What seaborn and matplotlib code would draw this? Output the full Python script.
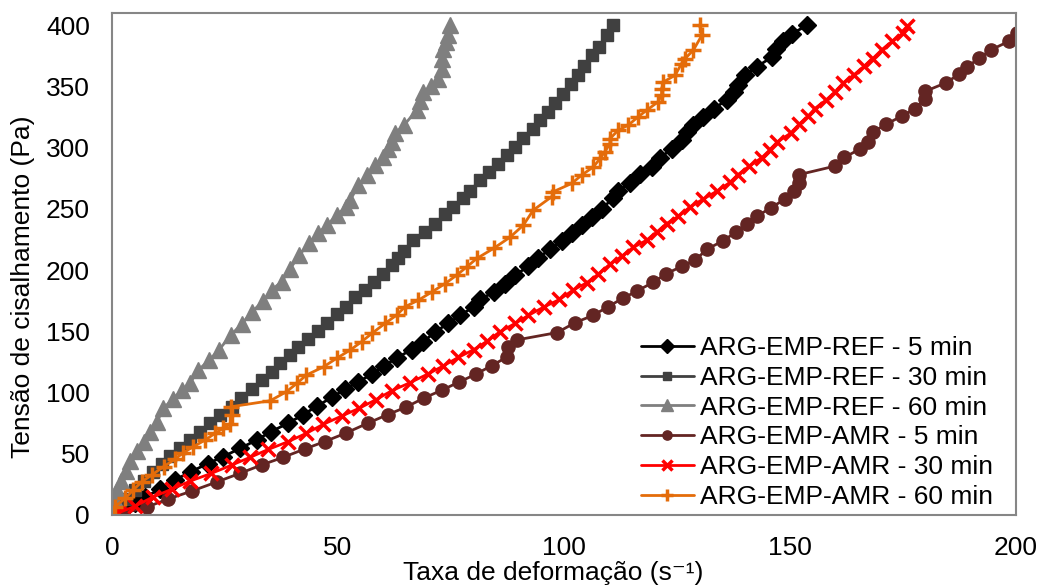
import matplotlib
matplotlib.use("Agg")
import matplotlib.pyplot as plt
import pandas as pd
import seaborn as sns

# Shear rate (1/s) and shear stress (Pa) for each sample
ref5_x = [0, 2.5, 5, 7.2, 10.6, 13.9, 17.5, 21.2, 24.6, 28.3, 32, 35.1, 38.9, 42.3, 45.4,
          48.6, 51.5, 54.5, 57.5, 60.2, 63, 66.3, 68.9, 71.5, 74.4, 77, 80, 81.4, 84.4, 87,
          89.2, 92.1, 94.3, 96.9, 99.5, 101.7, 103.9, 106.1, 108.3, 110.9, 112, 114.6, 116.8,
          119.4, 121.2, 123.8, 126, 127.1, 128.6, 130.8, 133.2, 136, 137.5, 138.6, 140, 142.6,
          146, 147, 148.5, 150.4, 153.8]
ref5_y = [0, 4, 9.5, 14.4, 21, 28.6, 35.4, 42, 47.6, 54.4, 61.2, 68, 74.8, 82, 89,
          96, 102.6, 108.8, 115, 121.6, 128.4, 135, 141.5, 149.6, 156.5, 163, 170, 176, 182, 189,
          196, 203, 210, 217, 223.7, 230, 236.7, 243.5, 250.3, 258.5, 265, 270.8, 278.4,
          284.3, 291.2, 299.3, 306, 313, 318.4, 325, 332, 339, 345.6, 351, 359, 366,
          374, 381, 387, 393, 400]

ref30_x = [0, 1.5, 3, 5, 7, 9.1, 11, 12.8, 15, 17.3, 19.5, 21.7, 23.9, 26.5, 28.5,
           30.9, 33.1, 35.3, 37.2, 39.4, 41.2, 43.4, 45.6, 47.5, 49.7, 51.7, 53.8, 56, 58, 60,
           61.9, 63.2, 64.5, 66.7, 69.2, 71.5, 73.7, 75.5, 77.7, 79.3, 81.4, 83.5, 85.5, 87.3,
           89.2, 91, 93.1, 94.7, 96.5, 98, 99.7, 101.5, 103.2, 104.5, 106.1, 107.8, 109.4, 110.9]
ref30_y = [0, 6, 13, 20, 28, 35.4, 42, 48, 54.4, 61, 68, 74.8, 81.6, 88.4, 95.5,
           103, 110, 117, 124, 130.6, 137, 143.7, 150.4, 156.5, 164, 170, 177.7, 183.7, 190.5, 197,
           204, 210, 216, 224.5, 231, 238, 245.7, 251.7, 259.3, 265, 273.5, 280, 287, 294,
           300.7, 308, 315, 322.4, 329, 336.6, 344.2, 351.8, 359, 367, 375.5, 382, 392, 400]

ref60_x = [0, 0.3, 0.7, 1.2, 2, 3, 4, 5.5, 7, 8.5, 10, 11.3, 13.6, 15.4, 17.3, 19.1, 21.5,
           23.7, 26.3, 28.7, 31, 33.5, 35.3, 37.5, 39.4, 41.4, 43.6, 45.5, 47.6, 49.7, 51.8,
           52.7, 54.5, 56.4, 58.2, 60, 61.1, 62, 62.6, 64.6, 67.4, 68.2, 68.9, 70.5, 72.2,
           72.9, 72.9, 73.3, 74, 74.3, 74.8]
ref60_y = [0, 5, 12, 20, 28, 36, 44, 52, 60, 68, 76, 87, 95, 102, 108, 118.4, 126.5,
           135, 147, 156, 166, 175, 183.7, 190.5, 201, 212, 222, 230, 236.7, 245, 251.7,
           257, 269.4, 277.6, 285.7, 292.5, 299.3, 305, 311.6, 318.4, 330.6, 338, 345.6, 350, 356.5,
           364.6, 372.8, 381, 386.4, 392, 400]

amr5_x = [0, 2.5, 7.7, 12.4, 17.7, 23.2, 28.3, 33.2, 37.8, 42.7, 47.1, 51.8, 56.6, 61, 65,
          69, 73, 76.8, 80.5, 84, 87.4, 87.6, 89.6, 98.5, 102.4, 106.4, 109.7, 113, 116.2, 119.7,
          122.6, 126, 129, 131.6, 135.2, 138, 140.5, 142.7, 145.8, 148.9, 150.9, 152, 152, 160, 162,
          165.5, 167.3, 168.4, 171.2, 174.8, 177.7, 179.9, 179.9, 184.5, 187.4, 189.2, 191.8,
          194.5, 198.5, 200.2]
amr5_y = [0, 1.5, 6.5, 13, 19.6, 27, 34, 41, 47, 54, 60, 67, 75, 82, 88,
          95.5, 102, 108.6, 115, 122, 129, 137, 143, 149, 157, 163, 170, 177, 183, 190,
          197, 203, 208, 217, 224, 231, 238, 244, 251, 258, 265, 271, 278, 285, 292,
          299, 305, 313, 319, 326, 332, 339.6, 346, 353, 360, 366, 373,
          380, 387, 394]

amr30_x = [0, 1.3, 5, 9, 13.2, 17.3, 22, 26.5, 30.5, 34.6, 38.9, 43, 46.7, 50.8, 54.6,
           58.3, 61.9, 65.9, 69.8, 73.2, 76.6, 80, 83, 85.8, 89.2, 92.1, 95.6, 99, 102, 105,
           107.6, 110.2, 112.8, 115.3, 118.3, 120.5, 122.7, 125.3, 127.9, 130.8, 133.9, 136.7,
           138.5, 141, 143.7, 145.6, 147.2, 150.2, 152, 154, 155.5, 158, 160, 161.8, 164.2,
           166.4, 168.3, 170.3, 172.6, 175, 175.9]
amr30_y = [0, 1.6, 7, 14.6, 21, 27.7, 34, 40.8, 47, 53.6, 59.8, 66.7, 74, 80.8, 87,
           94, 101.5, 108, 115, 121.6, 128.7, 135, 142, 149.6, 156.5, 163, 170, 176, 183.7, 189.6,
           196.7, 205, 211.4, 218.5, 224.5, 231, 238, 244, 251.7, 258, 264.7, 271.6,
           278, 285, 291.7, 298.5, 304.7, 312, 319, 325.7, 332, 339, 345.6, 353, 359.7,
           366.5, 372.8, 380, 386.9, 393.7, 399.4]

amr60_x = [0, 0.7, 2.9, 4.7, 6.6, 8.8, 11.4, 13.9, 15.8, 18, 20.6, 22.8, 24.6, 26.1, 26.5,
           26.3, 35, 38.6, 40.9, 43, 46.8, 49.7, 52.7, 55.2, 57.5, 60.4, 63, 64.8, 67.8, 70.7,
           73.7, 76.3, 78.5, 80.7, 84.4, 88.1, 91, 93.2, 97.3, 97.6, 101.7, 103.9, 106.5, 108, 109,
           110.2, 110.2, 112, 114.2, 116.4, 118.3, 120.8, 121.6, 121.6, 122, 124.6, 126, 126.8,
           128.6, 130.5, 130]
amr60_y = [0, 6.8, 13.6, 20.4, 27.2, 32.7, 39.4, 45.5, 50.9, 55.8, 61.2, 66.7, 70.8, 74, 81.6,
           88.4, 93.3, 100.7, 107.5, 114.3, 121, 128, 134.7, 141.5, 148.3, 156.5, 163.3, 170, 175.5, 182,
           189, 196, 202.7, 209.5, 217.7, 227, 236.7, 249, 260, 264, 270.8, 277.6, 284.3, 291.2, 296.6,
           303.4, 307.5, 314.3, 318.4, 325.2, 330.6, 337.4, 342.9, 348.3, 353.7, 359.2, 368.7, 372.8,
           379.6, 391.8, 400]

labels = ["ARG-EMP-REF - 5 min", "ARG-EMP-REF - 30 min", "ARG-EMP-REF - 60 min",
          "ARG-EMP-AMR - 5 min", "ARG-EMP-AMR - 30 min", "ARG-EMP-AMR - 60 min"]
x_ticks = [0, 50, 100, 150, 200]
y_ticks = [0, 50, 100, 150, 200, 250, 300, 350, 400]

sns.set_style("white")
plt.rcParams["font.family"] = ["Liberation Sans", "DejaVu Sans"]
plt.rcParams["text.color"] = "black"
plt.rcParams["axes.labelcolor"] = "black"

fig = plt.figure(figsize=(10.41, 5.86), dpi=100)
ax = fig.add_axes([0.1076, 0.1212, 0.8684, 0.8566])

series = [
    (ref5_x, ref5_y, "#000000", "D", 9.5, 1.0),
    (ref30_x, ref30_y, "#404040", "s", 8.8, 1.0),
    (ref60_x, ref60_y, "#7F7F7F", "^", 12.0, 1.0),
    (amr5_x, amr5_y, "#632523", "o", 9.5, 1.0),
    (amr30_x, amr30_y, "#FF0000", "x", 10.0, 2.5),
    (amr60_x, amr60_y, "#E46C0A", "+", 12.0, 2.5),
]

for (xs, ys, col, mk, ms, mew), lab in zip(series, labels):
    df = pd.DataFrame({"rate": xs, "stress": ys})
    sns.lineplot(data=df, x="rate", y="stress", sort=False, estimator=None, ax=ax,
                 color=col, linewidth=2.0, marker=mk, markersize=ms,
                 markeredgewidth=mew, markeredgecolor=col, markerfacecolor=col,
                 label=lab)

ax.set_xlim(0, 200)
ax.set_ylim(0, 410)
ax.set_xticks(x_ticks)
ax.set_yticks(y_ticks)
ax.tick_params(axis="both", which="major", direction="out", length=6, width=1.2,
               color="#868686", labelsize=19, pad=10, labelcolor="black")
ax.tick_params(axis="x", pad=9)
for side in ["left", "right", "top", "bottom"]:
    ax.spines[side].set_visible(True)
    ax.spines[side].set_color("#868686")
    ax.spines[side].set_linewidth(1.5)

ax.set_xlabel("Taxa de deformação (s\u207b\u00b9)", fontsize=19, color="black")
ax.set_ylabel("Tensão de cisalhamento (Pa)", fontsize=19, color="black")
ax.xaxis.set_label_coords(0.488, -0.092)
ax.yaxis.set_label_coords(-0.085, 0.455)

leg = ax.legend(loc="upper left", bbox_to_anchor=(641 / 1041, 1 - 336 / 586),
                bbox_transform=fig.transFigure, frameon=False, fontsize=19,
                handlelength=2.0, handletextpad=0.25, labelspacing=0.22,
                borderpad=0, borderaxespad=0, markerscale=0.7)
for t in leg.get_texts():
    t.set_color("black")

fig.savefig("out.png", dpi=100)
